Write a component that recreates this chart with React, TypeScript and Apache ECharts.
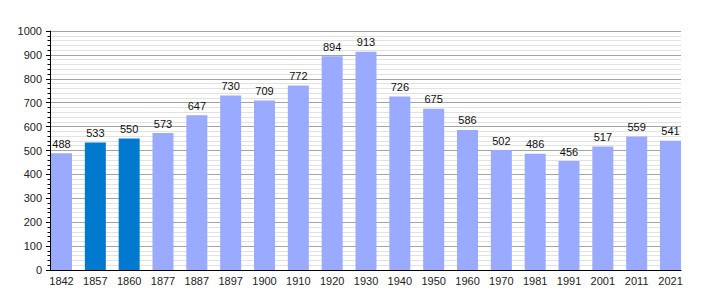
import React, { useEffect, useRef } from "react";
import * as echarts from "echarts";

const years = ["1842", "1857", "1860", "1877", "1887", "1897", "1900", "1910", "1920", "1930", "1940", "1950", "1960", "1970", "1981", "1991", "2001", "2011", "2021"];
const population = [488, 533, 550, 573, 647, 730, 709, 772, 894, 913, 726, 675, 586, 502, 486, 456, 517, 559, 541];
const highlighted = ["1857", "1860"];
const yTicks = [0, 100, 200, 300, 400, 500, 600, 700, 800, 900, 1000];

const LIGHT = "#99aaff";
const DARK = "#0079cf";

export default function App() {
  const ref = useRef<HTMLDivElement>(null);
  useEffect(() => {
    if (!ref.current) return;
    const chart = echarts.init(ref.current, undefined, { renderer: "svg" });
    const positions = years.map((_, i) => i);
    chart.setOption({
      animation: false,
      textStyle: { fontFamily: "Liberation Sans, Arial, sans-serif" },
      grid: { left: 50, right: 29, top: 31, bottom: 30, containLabel: false },
      xAxis: {
        type: "value",
        min: -0.34,
        max: 18.31,
        axisLine: { show: true, onZero: false, lineStyle: { color: "#000", width: 1 } },
        axisTick: { show: false },
        splitLine: { show: false },
        axisLabel: {
          customValues: positions,
          formatter: (v: number) => years[Math.round(v)] ?? "",
          color: "#222",
          fontSize: 11,
          margin: 5,
        },
      },
      yAxis: {
        type: "value",
        min: yTicks[0],
        max: yTicks[yTicks.length - 1],
        interval: 100,
        axisLine: { show: true, onZero: false, lineStyle: { color: "#000", width: 1 } },
        axisTick: { show: true, inside: false, length: 4, lineStyle: { color: "#000" } },
        minorTick: { show: true, splitNumber: 5, length: 2.5, lineStyle: { color: "#000" } },
        splitLine: { show: true, lineStyle: { color: "#a4a4a4", width: 1 } },
        minorSplitLine: { show: true, lineStyle: { color: "#e2e2e2", width: 1 } },
        axisLabel: { color: "#222", fontSize: 11, margin: 8, formatter: (v: number) => String(v) },
      },
      series: [
        {
          type: "bar",
          barWidth: 21,
          data: population.map((v, i) => ({
            value: [i, v],
            itemStyle: { color: highlighted.includes(years[i]) ? DARK : LIGHT },
          })),
          label: {
            show: true,
            position: "top",
            distance: 4,
            color: "#111",
            fontSize: 11,
            formatter: (p: any) => String(p.value[1]),
          },
          z: 3,
        },
      ],
    });
    return () => chart.dispose();
  }, []);
  return <div ref={ref} style={{ width: 710, height: 300, margin: -8 }} />;
}
